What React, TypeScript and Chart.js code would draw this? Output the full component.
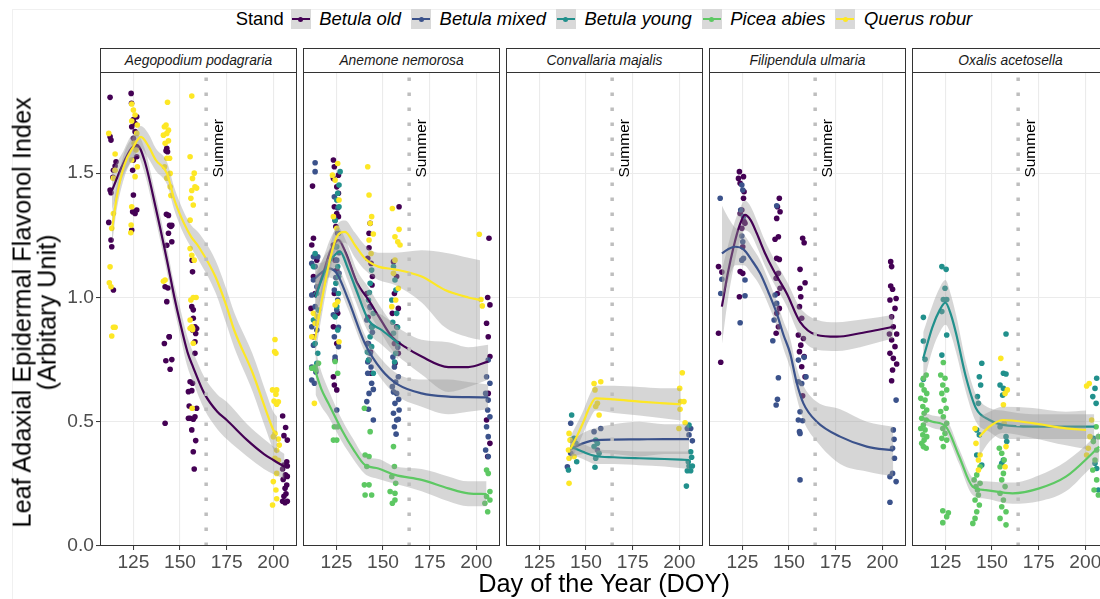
import React, { useEffect, useRef } from "react";
import { Chart, registerables } from "chart.js";
Chart.register(...registerables);

type Pt = [number, number];
type Sm = [number, number, number, number]; // DOY, fit, lower, upper

const STANDS = ["Betula old", "Betula mixed", "Betula young", "Picea abies", "Querus robur"];
const SPECIES = ["Aegopodium podagraria", "Anemone nemorosa", "Convallaria majalis", "Filipendula ulmaria", "Oxalis acetosella"];
const X_TICKS = [125, 150, 175, 200];
const Y_TICKS = [0, 0.5, 1.0, 1.5];
const X_MIN = 107.1;
const X_MAX = 212.7;
const Y_MIN = 0;
const Y_MAX = 1.907;
const SUMMER_DOY = 164;
const SUMMER_LABEL = "Summer";
const SUMMER_LABEL_Y = 1.6;
const LEGEND_TITLE = "Stand";
const X_TITLE = "Day of the Year (DOY)";
const Y_TITLE_1 = "Leaf Adaxial Epidermal Flavonol Index";
const Y_TITLE_2 = "(Arbitary Unit)";

// ---------- Aegopodium podagraria ----------
const AEG_OLD: Pt[] = [
  [112.5,1.805],[112.5,1.647],[113.0,1.633],[115.7,1.546],[115.2,1.529],[114.3,1.512],[114.0,1.483],[112.5,1.432],[113.0,1.421],[111.8,1.302],[113.0,1.231],[113.4,1.204],[114.3,1.03],
  [123.8,1.821],[124.0,1.781],[125.0,1.716],[125.9,1.70],[126.8,1.727],[124.1,1.687],[125.9,1.667],[125.0,1.64],[126.4,1.606],[126.8,1.566],[124.6,1.512],[125.0,1.412],[124.6,1.345],[125.9,1.338],[126.8,1.352],[124.1,1.271],[125.0,1.553],
  [142.9,1.60],[142.5,1.59],[143.3,1.586],[142.7,1.335],[143.8,1.33],[144.4,1.29],[145.1,1.286],[145.6,1.29],[143.8,1.258],[145.6,1.224],[142.9,1.21],[142.0,1.043],[143.5,1.038],[142.9,0.983],[144.2,0.842],
  [141.6,0.815],[144.2,0.842],[142.4,0.745],[144.7,0.711],[145.6,0.75],[142.0,0.494],
  [156.5,1.15],[156.7,1.103],[156.3,0.963],[157.1,0.95],[157.1,0.916],[158.0,0.882],[158.9,0.875],
  [156.7,0.869],[158.4,0.855],[158.0,0.822],[158.0,0.775],[155.4,0.661],[156.7,0.655],[154.5,0.621],[156.3,0.625],[154.9,0.563],[155.4,0.514],[157.1,0.51],[154.5,0.514],[158.0,0.52],[156.3,0.467],[158.4,0.424],[157.1,0.379],[157.6,0.31],[158.9,0.554],
  [205.0,0.523],[206.6,0.477],[205.7,0.444],[207.5,0.426],[207.2,0.339],[205.7,0.326],[207.5,0.322],[205.0,0.31],[206.5,0.286],[207.5,0.28],[205.3,0.268],[207.2,0.245],[206.3,0.232],[206.8,0.21],[205.0,0.18],[206.3,0.174],[207.5,0.18],[205.7,0.2],
];
const AEG_QUE: Pt[] = [
  [111.8,1.66],[115.2,1.577],[115.2,1.512],[114.3,1.48],[114.3,1.338],[113.4,1.278],[112.5,1.123],[112.1,1.059],[113.0,1.043],[113.4,0.845],[114.3,0.88],[115.2,0.88],
  [124.1,1.778],[125.0,1.754],[125.9,1.734],[124.1,1.71],[127.1,1.694],[126.8,1.66],[125.4,1.62],[126.4,1.593],[124.1,1.553],[127.1,1.526],[125.9,1.486],[124.1,1.365],[123.8,1.291],[123.6,1.26],
  [143.3,1.785],[141.6,1.687],[142.5,1.694],[143.8,1.673],[142.9,1.66],[141.1,1.653],[143.8,1.63],[142.0,1.62],[142.9,1.56],[144.4,1.56],[141.7,1.526],[144.7,1.499],[142.9,1.48],[144.7,1.445],[145.1,1.41],[142.0,1.07],[141.1,1.065],
  [156.3,1.81],[155.4,1.566],[156.7,1.479],[157.6,1.50],[158.0,1.445],[158.9,1.44],[156.3,1.43],[155.8,1.399],[157.1,1.372],[155.4,1.311],[155.4,1.197],[156.3,1.17],[157.6,1.15],[155.8,0.99],[157.1,1.0],[158.6,1.0],[155.4,0.909],[156.3,0.882],[156.7,0.87],[155.4,0.876],[156.7,0.876],[157.1,0.816],[156.5,0.554],
  [200.9,0.831],[200.7,0.782],[201.4,0.775],[199.6,0.628],[201.8,0.628],[201.4,0.611],[200.4,0.583],[202.7,0.58],[201.8,0.57],[200.9,0.453],[200.0,0.44],[202.7,0.43],[203.2,0.406],[201.8,0.385],[200.9,0.353],[202.7,0.345],[201.8,0.292],[200.0,0.259],[201.4,0.225],[199.6,0.165],[201.8,0.19],
];
const AEG_OLD_FIT: Sm[] = [
  [113.5,1.43,1.35,1.51],[119,1.53,1.48,1.58],[124,1.60,1.55,1.65],[127,1.613,1.57,1.655],[131,1.55,1.50,1.60],[137,1.36,1.31,1.41],[143,1.15,1.10,1.20],[147,1.00,0.95,1.05],[150,0.90,0.85,0.96],[154,0.78,0.72,0.84],[157,0.72,0.66,0.78],[163,0.614,0.55,0.68],[170,0.54,0.47,0.61],[175,0.507,0.43,0.58],[186,0.426,0.36,0.49],[195,0.37,0.31,0.43],[200,0.346,0.29,0.40],[206,0.319,0.27,0.37],
];
const AEG_QUE_FIT: Sm[] = [
  [113.5,1.271,1.21,1.33],[116,1.40,1.35,1.45],[120,1.53,1.48,1.58],[125,1.606,1.56,1.65],[129,1.646,1.60,1.69],[133,1.61,1.56,1.66],[137,1.553,1.51,1.60],[143,1.499,1.455,1.545],[147,1.392,1.35,1.44],[152,1.30,1.255,1.345],[156,1.244,1.20,1.29],[160,1.204,1.15,1.26],[169,1.083,1.02,1.15],[175,0.963,0.89,1.03],[179,0.869,0.80,0.94],[189,0.695,0.62,0.77],[196,0.547,0.47,0.62],[200,0.467,0.39,0.54],[202,0.447,0.37,0.52],
];

// ---------- Anemone nemorosa ----------
const ANE_OLD: Pt[] = [
  [112.2,1.448],[112.7,1.238],[111.8,1.211],[114.5,1.15],[112.7,1.084],[113.6,1.016],[111.4,0.956],[114.0,0.896],[112.7,0.842],
  [123.4,1.553],[123.9,1.526],[126.1,1.492],[123.4,1.479],[125.2,1.445],[126.1,1.419],[123.9,1.365],[125.2,1.338],[126.1,1.325],[124.7,1.285],[125.7,1.258],[123.4,1.211],[124.3,1.15],[125.2,1.11],[126.1,1.084],[123.9,1.016],[125.7,0.936],[123.4,0.882],[125.2,0.815],[124.3,0.748],[123.4,0.681],[123.9,0.648],[125.2,0.628],
  [143.1,1.298],[142.5,1.258],[141.8,1.157],[143.6,1.137],[144.3,1.084],[141.3,1.016],[143.1,0.963],[143.9,0.882],[141.8,0.815],[142.5,0.748],[143.6,0.695],[142.5,1.20],[144.1,1.05],[142.0,0.92],[143.3,0.78],
  [158.6,1.365],[155.6,1.144],[157.3,1.084],[156.1,1.016],[158.2,0.956],[155.0,0.936],[157.3,0.882],[156.1,0.815],[158.2,0.775],[156.4,0.735],
  [206.8,1.238],[206.1,1.0],[207.3,0.97],[205.5,0.896],[206.4,0.842],[207.3,0.762],[206.4,0.614],[205.5,0.507],[207.3,0.413],[206.1,0.36],
];
const ANE_MIX: Pt[] = [
  [113.6,1.542],[113.6,1.506],[112.7,1.164],[115.0,1.164],[111.8,1.137],[113.6,1.124],[112.7,1.07],[114.5,1.043],[111.8,1.01],[113.6,0.963],[111.8,0.882],[114.5,0.869],[112.7,0.808],[111.8,0.72],[114.0,0.70],[111.8,0.668],[113.2,0.655],
  [123.9,1.405],[126.1,1.258],[124.7,1.204],[125.2,1.15],[126.4,1.097],[123.9,1.03],[125.7,0.99],[125.2,0.949],[123.9,0.842],[126.1,0.802],[125.2,0.547],[124.3,1.31],[125.7,1.36],[126.4,1.18],[124.7,1.08],[123.4,0.93],[126.1,0.88],[124.3,0.76],
  [141.3,0.909],[143.9,0.882],[142.2,0.815],[143.1,0.775],[141.8,0.695],[143.9,0.655],[142.5,0.614],[141.3,0.581],[144.8,0.507],[143.1,0.96],[144.3,0.86],[141.8,0.74],[143.6,0.72],[144.8,0.63],[142.2,0.55],
  [156.1,0.72],[158.2,0.681],[155.0,0.641],[157.3,0.614],[156.4,0.574],[158.6,0.547],[155.6,0.534],[157.3,0.507],[156.1,0.48],[157.9,0.80],[155.3,0.76],[156.8,0.66],[158.4,0.59],[155.6,0.62],[157.0,0.45],[158.2,0.51],
  [206.4,0.748],[205.5,0.681],[207.3,0.655],[205.0,0.614],[206.4,0.587],[206.1,0.547],[207.3,0.52],[205.5,0.48],[206.4,0.44],[205.0,0.386],[206.4,0.36],
];
const ANE_YOU: Pt[] = [
  [113.6,1.177],[112.7,1.124],[114.5,1.016],[115.4,0.949],[112.7,0.909],[113.6,0.815],[115.0,0.775],[114.5,0.735],
  [127.0,1.506],[126.4,1.452],[125.7,1.419],[125.2,1.392],[126.4,1.365],[124.3,1.311],[125.2,1.204],[125.7,1.124],[126.1,1.084],[124.7,1.057],[126.1,1.016],[125.2,0.963],[124.3,0.922],[125.7,0.869],
  [143.9,1.11],[143.1,1.057],[142.2,0.99],[144.8,0.936],[143.1,0.842],[143.9,0.802],[142.2,0.748],[144.8,0.695],[142.7,1.02],[144.1,0.88],[141.6,0.78],
  [155.6,1.124],[156.4,1.07],[154.7,0.99],[157.3,0.936],[155.6,0.856],[158.2,0.815],[156.8,0.775],[156.9,1.03],[155.2,0.90],[157.8,0.88],[156.2,0.74],
];
const ANE_PIC: Pt[] = [
  [113.6,0.72],[114.0,0.708],[115.4,0.735],[111.8,0.715],
  [124.3,0.742],[125.7,0.695],[123.9,0.48],[125.7,0.48],[125.2,0.426],[123.4,0.426],
  [140.0,0.554],[143.1,0.46],[140.4,0.366],[142.5,0.36],[140.0,0.246],[142.5,0.246],[140.4,0.205],[143.9,0.205],[141.3,0.32],
  [155.6,0.40],[156.1,0.32],[154.7,0.279],[156.8,0.252],[153.8,0.219],[156.4,0.212],[155.0,0.172],[156.4,0.185],
  [205.5,0.306],[206.4,0.292],[207.3,0.219],[205.5,0.199],[204.6,0.172],[206.1,0.138],[207.3,0.185],
];
const ANE_QUE: Pt[] = [
  [112.7,0.936],[114.5,0.922],[113.6,0.896],[111.8,0.842],[113.2,0.574],
  [125.7,1.539],[122.9,1.492],[124.3,1.472],[126.4,1.392],[123.4,1.325],[125.2,1.278],[125.7,0.983],[124.3,0.97],[126.4,0.822],
  [141.8,1.526],[142.5,1.412],[143.9,1.325],[143.1,1.298],[144.8,1.255],[142.5,1.231],[143.6,1.177],
  [155.0,1.358],[158.6,1.274],[156.4,1.244],[157.9,1.224],[159.1,1.211],[156.4,1.15],[155.6,1.097],[158.2,1.037],[156.8,0.99],[154.7,0.963],
  [201.6,1.254],[202.5,0.992],[203.2,0.966],
];
const ANE_OLD_FIT: Sm[] = [
  [113.5,1.00,0.92,1.08],[118,1.10,1.04,1.16],[122,1.19,1.14,1.24],[126.1,1.231,1.18,1.28],[130,1.18,1.13,1.23],[136,1.06,1.01,1.11],[142.2,0.99,0.94,1.04],[148,0.92,0.87,0.97],[154.7,0.842,0.79,0.90],[162,0.80,0.74,0.86],[170.7,0.762,0.69,0.83],[185,0.72,0.62,0.82],[195.7,0.72,0.64,0.80],[206.4,0.742,0.67,0.81],
];
const ANE_MIX_FIT: Sm[] = [
  [113.5,1.077,1.02,1.14],[117,1.10,1.06,1.14],[120.7,1.117,1.08,1.155],[125.2,1.097,1.06,1.135],[131.4,0.99,0.95,1.03],[140.3,0.815,0.78,0.85],[149.3,0.708,0.67,0.75],[158.3,0.648,0.60,0.69],[170.7,0.614,0.56,0.67],[185,0.601,0.53,0.67],[195.7,0.599,0.54,0.66],[206.4,0.598,0.55,0.65],
];
const ANE_YOU_FIT: Sm[] = [
  [113.8,1.00,0.90,1.10],[118,1.09,1.02,1.16],[122,1.15,1.10,1.20],[127,1.184,1.135,1.235],[131,1.12,1.07,1.17],[135,1.043,0.99,1.09],[142.2,0.909,0.86,0.96],[149.3,0.869,0.81,0.93],[158.3,0.815,0.75,0.88],
];
const ANE_PIC_FIT: Sm[] = [
  [113.8,0.701,0.61,0.79],[117,0.63,0.56,0.70],[120.7,0.574,0.52,0.63],[127.9,0.467,0.42,0.51],[134,0.39,0.35,0.43],[140.3,0.326,0.29,0.36],[147.5,0.312,0.27,0.35],[156.4,0.286,0.25,0.32],[170.7,0.266,0.22,0.31],[185,0.232,0.18,0.28],[195.7,0.212,0.16,0.26],[205.5,0.209,0.16,0.26],
];
const ANE_QUE_FIT: Sm[] = [
  [113.5,0.829,0.76,0.90],[117,0.98,0.92,1.04],[120.7,1.124,1.07,1.18],[125.2,1.244,1.20,1.29],[129.6,1.264,1.22,1.31],[135,1.21,1.16,1.26],[140.3,1.157,1.11,1.21],[147.5,1.124,1.07,1.18],[156.4,1.113,1.05,1.18],[170.7,1.084,0.98,1.19],[183.2,1.03,0.88,1.18],[195.7,1.0,0.84,1.16],[202,0.99,0.83,1.15],
];

// ---------- Convallaria majalis ----------
const CON_MIX: Pt[] = [
  [141.8,0.494],[140.0,0.319],[141.8,0.373],[154.3,0.46],[157.9,0.473],[156.1,0.386],[204.3,0.473],[206.1,0.473],[205.2,0.447],[207.0,0.423],
];
const CON_YOU: Pt[] = [
  [142.3,0.527],[143.6,0.433],[144.5,0.413],[145.0,0.339],[140.6,0.306],[141.8,0.426],[155.2,0.426],[154.3,0.40],[157.0,0.373],[155.2,0.353],[154.8,0.317],[156.1,0.413],
  [205.2,0.487],[206.1,0.379],[206.6,0.357],[204.8,0.339],[207.0,0.322],[204.3,0.303],[206.1,0.303],[203.8,0.241],[205.2,0.322],
];
const CON_QUE: Pt[] = [
  [140.9,0.453],[141.4,0.426],[140.6,0.386],[140.9,0.353],[140.9,0.252],[143.1,0.40],[143.6,0.36],[154.3,0.654],[157.9,0.661],[154.8,0.628],[156.1,0.574],[157.0,0.527],[155.2,0.561],
  [201.6,0.697],[200.2,0.634],[200.7,0.581],[202.5,0.581],[203.1,0.496],[199.8,0.473],[200.4,0.55],
];
const CON_MIX_FIT: Sm[] = [
  [141.5,0.389,0.36,0.42],[148.3,0.413,0.37,0.455],[155.2,0.426,0.375,0.475],[165,0.428,0.37,0.49],[178.6,0.429,0.36,0.50],[192,0.43,0.37,0.49],[205.2,0.43,0.37,0.49],
];
const CON_YOU_FIT: Sm[] = [
  [141.5,0.40,0.37,0.43],[148.3,0.379,0.35,0.41],[155.2,0.362,0.33,0.39],[165,0.357,0.33,0.385],[178.6,0.353,0.325,0.38],[192,0.35,0.32,0.38],[205.2,0.346,0.31,0.38],
];
const CON_QUE_FIT: Sm[] = [
  [141.5,0.389,0.34,0.44],[145,0.44,0.39,0.49],[148.3,0.494,0.45,0.54],[152,0.56,0.51,0.61],[155.2,0.594,0.545,0.645],[165,0.59,0.535,0.645],[178.6,0.581,0.525,0.64],[190,0.575,0.515,0.635],[200.8,0.57,0.505,0.635],
];

// ---------- Filipendula ulmaria ----------
const FIL_OLD: Pt[] = [
  [112.2,1.124],[114.0,1.102],[112.2,0.856],[113.4,0.739],
  [123.4,1.506],[122.9,1.479],[125.6,1.486],[123.8,1.459],[125.9,1.425],[125.6,1.399],[124.7,1.352],[123.8,1.338],[125.9,1.305],[124.7,1.278],[126.4,1.298],[125.2,1.204],[123.8,1.104],[125.2,1.097],[123.4,1.003],
  [144.8,1.399],[143.8,1.365],[145.2,1.345],[143.4,1.318],[142.5,1.234],[144.3,1.244],[143.4,1.157],[144.8,1.153],[144.3,1.097],[143.1,1.077],[145.2,1.037],[143.8,1.016],[144.8,0.956],[143.4,0.936],[144.3,0.882],[143.1,0.856],
  [157.3,1.238],[158.1,1.22],[155.9,1.113],[158.6,1.059],[155.9,1.037],[156.3,1.003],[155.6,0.963],[156.8,0.916],[155.0,0.849],[157.7,0.835],[156.3,0.808],[155.6,0.782],[158.1,0.762],[156.8,0.721],[158.6,0.681],[157.3,0.604],
  [204.5,1.144],[205.0,1.124],[204.5,1.046],[205.5,1.033],[207.4,0.996],[204.1,0.99],[206.8,0.956],[205.0,0.922],[205.9,0.882],[203.8,0.853],[207.7,0.853],[205.0,0.829],[206.8,0.802],[204.1,0.775],[205.9,0.755],[207.7,0.732],[205.5,0.708],[205.0,0.665],
];
const FIL_MIX: Pt[] = [
  [113.1,1.399],[114.0,1.073],[113.4,1.016],
  [124.7,1.452],[125.2,1.432],[124.1,1.352],[125.6,1.325],[124.7,1.247],[125.2,1.224],[125.6,1.157],[124.7,1.15],[126.4,1.07],[126.4,1.007],[123.8,0.898],
  [143.4,1.369],[142.5,1.01],[143.4,0.976],[142.0,0.909],[141.3,0.826],[144.3,0.677],[143.8,0.59],[143.1,0.567],
  [155.0,0.748],[158.1,0.759],[156.8,0.654],[155.0,0.661],[159.1,0.681],[155.9,0.54],[155.0,0.507],[157.3,0.504],[155.6,0.46],[155.9,0.453],[155.9,0.266],
  [207.4,0.587],[205.9,0.467],[206.3,0.429],[205.5,0.393],[206.5,0.353],[205.5,0.292],[204.1,0.279],[207.4,0.259],[204.1,0.176],
];
const FIL_OLD_FIT: Sm[] = [
  [114,0.963,0.81,1.11],[117,1.09,0.98,1.20],[120.3,1.204,1.12,1.29],[123.5,1.29,1.225,1.355],[126.4,1.332,1.27,1.39],[129.5,1.31,1.255,1.365],[132.7,1.258,1.205,1.31],[137,1.18,1.13,1.23],[141.6,1.11,1.06,1.16],[148.8,1.016,0.965,1.065],[155.9,0.902,0.845,0.96],[164.9,0.849,0.79,0.91],[175.6,0.842,0.785,0.90],[188.1,0.856,0.80,0.91],[198,0.87,0.82,0.92],[205.9,0.882,0.835,0.93],
];
const FIL_MIX_FIT: Sm[] = [
  [114,1.177,0.98,1.37],[117.5,1.195,1.07,1.32],[121.2,1.204,1.13,1.28],[125.6,1.193,1.13,1.255],[130,1.15,1.095,1.205],[134.5,1.097,1.045,1.15],[139,1.02,0.97,1.07],[143.4,0.936,0.885,0.985],[147,0.85,0.795,0.905],[150.6,0.775,0.715,0.835],[154,0.66,0.60,0.72],[157.7,0.574,0.505,0.645],[164.9,0.50,0.42,0.58],[177.4,0.44,0.33,0.55],[191.7,0.40,0.30,0.50],[205.9,0.384,0.28,0.48],
];

// ---------- Oxalis acetosella ----------
const OXA_YOU: Pt[] = [
  [113.2,0.92],[113.2,0.825],[114.1,0.751],[113.2,0.671],
  [123.1,1.124],[125.4,1.113],[124.8,1.037],[123.9,0.992],[125.7,0.992],[123.1,0.943],[125.7,0.849],[123.1,0.768],
  [144.5,0.735],[143.2,0.681],[143.9,0.648],[142.2,0.601],[142.7,0.574],[141.8,0.467],[143.2,0.447],[141.8,0.366],[144.5,0.326],
  [157.5,0.853],[156.1,0.695],[157.5,0.692],[154.3,0.648],[156.1,0.634],[155.7,0.607],[154.3,0.48],[157.5,0.44],[157.9,0.42],[156.1,0.346],[155.2,0.333],
  [206.1,0.675],[205.2,0.634],[204.0,0.601],[205.8,0.574],[204.3,0.433],[205.2,0.333],[206.1,0.312],[207.0,0.225],
];
const OXA_PIC: Pt[] = [
  [114.7,0.688],[113.2,0.675],[112.3,0.648],[113.6,0.628],[115.0,0.614],[111.8,0.594],[114.1,0.587],[112.9,0.561],[115.0,0.547],[113.6,0.534],[112.3,0.514],[114.7,0.507],[113.2,0.487],[111.8,0.473],[114.1,0.467],[112.9,0.447],[115.0,0.44],[113.6,0.426],[112.3,0.413],[114.7,0.393],[113.2,0.40],
  [123.9,0.738],[122.5,0.688],[124.8,0.675],[123.6,0.648],[125.7,0.628],[123.1,0.614],[124.3,0.587],[125.4,0.554],[122.5,0.541],[123.9,0.52],[125.7,0.494],[123.6,0.473],[124.8,0.453],[123.1,0.433],[125.7,0.426],[123.9,0.40],[123.6,0.142],[126.6,0.134],[125.7,0.118],[123.6,0.094],
  [141.8,0.286],[140.4,0.266],[143.6,0.252],[142.2,0.225],[142.7,0.205],[140.9,0.185],[143.2,0.165],[141.8,0.138],[140.9,0.111],[139.7,0.091],[143.6,0.319],[141.4,0.239],
  [153.9,0.393],[155.2,0.373],[156.5,0.346],[154.3,0.319],[156.1,0.292],[155.2,0.266],[157.0,0.239],[154.3,0.212],[156.1,0.185],[155.2,0.158],[157.5,0.138],[154.3,0.111],[157.5,0.085],
  [204.3,0.42],[206.1,0.386],[205.2,0.346],[204.0,0.306],[206.1,0.266],[204.7,0.225],[207.0,0.205],[205.8,0.48],[207.0,0.44],
];
const OXA_QUE: Pt[] = [
  [140.9,0.473],[141.4,0.413],[142.7,0.346],[143.6,0.366],[142.7,0.306],
  [154.7,0.755],[158.2,0.628],[157.0,0.614],[156.1,0.568],[156.5,0.494],[157.5,0.40],[157.0,0.319],
  [200.7,0.644],[202.1,0.654],[203.4,0.507],[202.5,0.44],[201.6,0.393],[200.7,0.366],
];
const OXA_YOU_FIT: Sm[] = [
  [113.1,0.755,0.65,0.86],[118.1,0.882,0.79,0.97],[122,0.95,0.86,1.04],[125,0.979,0.89,1.07],[128,0.93,0.85,1.01],[130.7,0.856,0.78,0.93],[136,0.68,0.62,0.74],[141.4,0.554,0.50,0.61],[148.6,0.507,0.46,0.555],[155.7,0.487,0.43,0.545],[171.8,0.48,0.43,0.53],[189.6,0.48,0.43,0.53],[204.8,0.48,0.43,0.53],
];
const OXA_PIC_FIT: Sm[] = [
  [113.1,0.514,0.49,0.54],[118.1,0.50,0.475,0.525],[125.3,0.48,0.45,0.51],[132.4,0.36,0.33,0.39],[139.6,0.239,0.205,0.275],[146.7,0.225,0.19,0.26],[161,0.212,0.17,0.255],[175.3,0.232,0.18,0.285],[189.6,0.279,0.22,0.34],[203.8,0.373,0.32,0.43],[207.4,0.40,0.34,0.46],
];
const OXA_QUE_FIT: Sm[] = [
  [143.2,0.44,0.36,0.52],[148.6,0.48,0.42,0.54],[155.7,0.507,0.455,0.56],[171.8,0.494,0.435,0.555],[189.6,0.473,0.405,0.54],[200.4,0.467,0.39,0.545],
];

// ---------- assembly (index = stand) ----------
const PANEL_POINTS: (Pt[] | null)[][] = [
  [AEG_OLD, null, null, null, AEG_QUE],
  [ANE_OLD, ANE_MIX, ANE_YOU, ANE_PIC, ANE_QUE],
  [null, CON_MIX, CON_YOU, null, CON_QUE],
  [FIL_OLD, FIL_MIX, null, null, null],
  [null, null, OXA_YOU, OXA_PIC, OXA_QUE],
];
const PANEL_FITS: (Sm[] | null)[][] = [
  [AEG_OLD_FIT, null, null, null, AEG_QUE_FIT],
  [ANE_OLD_FIT, ANE_MIX_FIT, ANE_YOU_FIT, ANE_PIC_FIT, ANE_QUE_FIT],
  [null, CON_MIX_FIT, CON_YOU_FIT, null, CON_QUE_FIT],
  [FIL_OLD_FIT, FIL_MIX_FIT, null, null, null],
  [null, null, OXA_YOU_FIT, OXA_PIC_FIT, OXA_QUE_FIT],
];

// ---------- styles / layout ----------
const COLORS = ["#440154", "#3B528B", "#21908C", "#5DC863", "#FDE725"];
const RIBBON = "rgba(153,153,153,0.4)";
const FONT = '"Liberation Sans", Arial, Helvetica, sans-serif';
const PANEL_LEFT = [100, 303, 506, 709, 912];
const PANEL_W = 197;
const PLOT_TOP = 72;
const PLOT_H = 474;
const AXIS_H = 53;
const YAXIS_W = 100;
const STRIP_TOP = 48;

function PanelChart({ idx }: { idx: number }) {
  const ref = useRef<HTMLCanvasElement>(null);
  useEffect(() => {
    if (!ref.current) return;
    const datasets: any[] = [];
    PANEL_POINTS[idx].forEach((pts, s) => {
      if (!pts) return;
      datasets.push({
        data: pts.map(([x, y]) => ({ x, y })),
        showLine: false,
        pointRadius: 2.8,
        pointBorderWidth: 0,
        pointBackgroundColor: COLORS[s],
        borderColor: COLORS[s],
        backgroundColor: COLORS[s],
      });
    });
    PANEL_FITS[idx].forEach((fit, s) => {
      if (!fit) return;
      datasets.push({
        data: fit.map((r) => ({ x: r[0], y: r[3] })),
        borderColor: "rgba(0,0,0,0)",
        borderWidth: 0,
        pointRadius: 0,
        fill: "+1",
        backgroundColor: RIBBON,
        cubicInterpolationMode: "monotone",
      });
      datasets.push({
        data: fit.map((r) => ({ x: r[0], y: r[2] })),
        borderColor: "rgba(0,0,0,0)",
        borderWidth: 0,
        pointRadius: 0,
        fill: false,
        cubicInterpolationMode: "monotone",
      });
      datasets.push({
        data: fit.map((r) => ({ x: r[0], y: r[1] })),
        borderColor: COLORS[s],
        borderWidth: 2.2,
        pointRadius: 0,
        fill: false,
        cubicInterpolationMode: "monotone",
      });
    });
    datasets.push({
      data: [{ x: SUMMER_DOY, y: Y_MIN }, { x: SUMMER_DOY, y: Y_MAX }],
      borderColor: "#bebebe",
      borderWidth: 3.5,
      borderDash: [3.5, 11.5],
      borderCapStyle: "butt",
      pointRadius: 0,
      fill: false,
    });
    const N = datasets.length;
    datasets.forEach((d, i) => (d.order = N - i));

    const framePlugin = {
      id: "frame" + idx,
      afterDatasetsDraw(chart: any) {
        const { ctx, scales } = chart;
        const x = scales.x.getPixelForValue(SUMMER_DOY) + 16.5;
        const y = scales.y.getPixelForValue(SUMMER_LABEL_Y);
        ctx.save();
        ctx.translate(x, y);
        ctx.rotate(-Math.PI / 2);
        ctx.font = `15.5px ${FONT}`;
        ctx.fillStyle = "#000";
        ctx.textAlign = "center";
        ctx.textBaseline = "alphabetic";
        ctx.fillText(SUMMER_LABEL, 0, 0);
        ctx.restore();
      },
      afterDraw(chart: any) {
        const { ctx, chartArea: a } = chart;
        ctx.save();
        ctx.strokeStyle = "#333333";
        ctx.lineWidth = 1;
        ctx.strokeRect(a.left + 0.5, a.top + 0.5, a.right - a.left - 1, a.bottom - a.top - 1);
        ctx.restore();
      },
    };

    const first = idx === 0;
    const chart = new Chart(ref.current, {
      type: "line",
      data: { datasets },
      options: {
        animation: false,
        responsive: false,
        events: [],
        layout: { padding: 0, autoPadding: false },
        plugins: { legend: { display: false }, tooltip: { enabled: false }, title: { display: false } },
        scales: {
          x: {
            type: "linear",
            min: X_MIN,
            max: X_MAX,
            afterBuildTicks: (s: any) => {
              s.ticks = X_TICKS.map((v) => ({ value: v }));
            },
            afterFit: (s: any) => {
              s.height = AXIS_H;
              s.paddingLeft = 0;
              s.paddingRight = 0;
              s.paddingTop = 0;
              s.paddingBottom = 0;
            },
            grid: { color: "#ebebeb", lineWidth: 1.1, tickColor: "#333333", tickLength: 4, tickWidth: 1 },
            border: { display: false },
            ticks: {
              color: "#4d4d4d",
              font: { family: FONT, size: 19.2 },
              padding: 1,
              maxRotation: 0,
              autoSkip: false,
              callback: (v: any) => String(v),
            },
          },
          y: {
            type: "linear",
            min: Y_MIN,
            max: Y_MAX,
            afterBuildTicks: (s: any) => {
              s.ticks = Y_TICKS.map((v) => ({ value: v }));
            },
            afterFit: (s: any) => {
              s.width = first ? YAXIS_W : 0;
              s.paddingLeft = 0;
              s.paddingRight = 0;
              s.paddingTop = 0;
              s.paddingBottom = 0;
            },
            grid: { color: "#ebebeb", lineWidth: 1.1, tickColor: "#333333", tickLength: 4, tickWidth: 1, drawTicks: first },
            border: { display: false },
            ticks: {
              display: first,
              color: "#4d4d4d",
              font: { family: FONT, size: 19.2 },
              padding: 2,
              callback: (v: any) => Number(v).toFixed(1),
            },
          },
        },
      } as any,
      plugins: [framePlugin],
    });
    return () => chart.destroy();
  }, [idx]);

  const left = PANEL_LEFT[idx] - (idx === 0 ? YAXIS_W : 0);
  const width = PANEL_W + (idx === 0 ? YAXIS_W : 0);
  return (
    <canvas
      ref={ref}
      width={width}
      height={PLOT_H + AXIS_H}
      style={{ position: "absolute", left, top: PLOT_TOP, width, height: PLOT_H + AXIS_H }}
    />
  );
}

export default function App() {
  return (
    <div
      style={{
        position: "absolute",
        left: 0,
        top: 0,
        width: 1100,
        height: 599,
        overflow: "hidden",
        background: "#fff",
        fontFamily: FONT,
        color: "#000",
      }}
    >
      <div style={{ position: "absolute", left: 12, top: 9, width: 1200, height: 700, border: "1px solid #f0f0f0" }} />
      {/* legend */}
      <div
        style={{
          position: "absolute",
          left: 100,
          width: 1008,
          top: 9,
          height: 20,
          display: "flex",
          justifyContent: "center",
          alignItems: "center",
          fontSize: 18.4,
          whiteSpace: "nowrap",
        }}
      >
        <span style={{ marginRight: 7 }}>{LEGEND_TITLE}</span>
        {STANDS.map((s, i) => (
          <React.Fragment key={s}>
            <span style={{ position: "relative", display: "inline-block", width: 20, height: 20, background: "#d9d9d9" }}>
              <span style={{ position: "absolute", left: 1, right: 1, top: 9, height: 2, background: COLORS[i] }} />
              <span
                style={{ position: "absolute", left: 7.5, top: 7.5, width: 5, height: 5, borderRadius: "50%", background: COLORS[i] }}
              />
            </span>
            <span style={{ fontStyle: "italic", marginLeft: 8.5, marginRight: i < STANDS.length - 1 ? 10 : 0 }}>{s}</span>
          </React.Fragment>
        ))}
      </div>
      {/* strips */}
      {SPECIES.map((sp, i) => (
        <div
          key={sp}
          style={{
            position: "absolute",
            left: PANEL_LEFT[i],
            top: STRIP_TOP,
            width: PANEL_W,
            height: PLOT_TOP - STRIP_TOP + 1,
            boxSizing: "border-box",
            border: "1px solid #333333",
            display: "flex",
            alignItems: "center",
            justifyContent: "center",
            fontStyle: "italic",
            fontSize: 13.8,
            color: "#1a1a1a",
            background: "#fff",
            whiteSpace: "nowrap",
          }}
        >
          {sp}
        </div>
      ))}
      {SPECIES.map((sp, i) => (
        <PanelChart key={"c" + i} idx={i} />
      ))}
      {/* y title */}
      <div
        style={{
          position: "absolute",
          left: 35 - 250,
          top: 312 - 25.4,
          width: 500,
          height: 50.8,
          transform: "rotate(-90deg)",
          textAlign: "center",
          fontSize: 25.3,
          lineHeight: "25.4px",
          whiteSpace: "nowrap",
        }}
      >
        {Y_TITLE_1}
        <br />
        {Y_TITLE_2}
      </div>
      {/* x title */}
      <div
        style={{
          position: "absolute",
          left: 100,
          width: 1008,
          top: 571,
          textAlign: "center",
          fontSize: 25.3,
          lineHeight: "25px",
          whiteSpace: "nowrap",
        }}
      >
        {X_TITLE}
      </div>
    </div>
  );
}
